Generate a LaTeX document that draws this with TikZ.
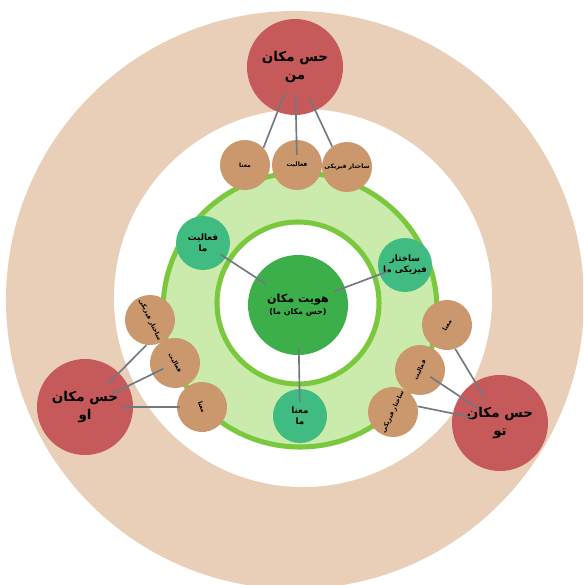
\documentclass[tikz,border=0pt]{standalone}
\usepackage{fontspec}
\newfontfamily\arabicfont[Script=Arabic]{DejaVu Sans}
\TeXXeTstate=1
\newcommand{\fatext}[1]{{\arabicfont\bfseries\beginR #1\endR}}

\definecolor{ringtan}{RGB}{233,206,184}
\definecolor{ringgreen}{RGB}{122,200,62}
\definecolor{palegreen}{RGB}{202,235,172}
\definecolor{hubgreen}{RGB}{60,174,74}
\definecolor{ourteal}{RGB}{64,188,130}
\definecolor{partbrown}{RGB}{202,152,108}
\definecolor{sensered}{RGB}{198,90,90}
\definecolor{linegray}{RGB}{112,120,130}

\begin{document}
\begin{tikzpicture}[x=0.03cm, y=-0.03cm]
\tikzstyle{link} = [draw = linegray, line width = 1.4pt]
\tikzstyle{sense} = [circle, fill = sensered, minimum size = 2.88cm, inner sep = 0pt, align = center, font = \fontsize{11.5}{15}\selectfont]
\tikzstyle{hubnode} = [circle, fill = hubgreen, minimum size = 3cm, inner sep = 0pt, align = center, font = \fontsize{9.5}{12}\selectfont]
\tikzstyle{ours} = [circle, fill = ourteal, minimum size = 1.62cm, inner sep = 0pt, align = center, font = \fontsize{7.5}{9.5}\selectfont]
\tikzstyle{part} = [circle, fill = partbrown, minimum size = 1.5cm, inner sep = 0pt, font = \fontsize{5.2}{6}\selectfont]
\useasboundingbox (0,0) rectangle (583,585);
\clip (0,0) rectangle (583,585);
% rings
\fill[ringtan] (295,300) circle[radius = 8.67cm];
\fill[white] (303,298) circle[radius = 5.67cm];
\draw[ringgreen, line width = 4.3pt, fill = palegreen] (300,310) circle[radius = 4.11cm];
\draw[ringgreen, line width = 4.3pt, fill = white] (298,303) circle[radius = 2.43cm];
% centre and ours
\node[hubnode](hub) at (298,305) {\fatext{هویت مکان}\\[-2pt]{\fontsize{6.8}{8}\selectfont\fatext{(حس مکان ما)}}};
\node[ours](q1) at (203,243) {\fatext{فعالیت}\\\fatext{ما}};
\node[ours](q2) at (405,265) {\fatext{ساختار}\\\fatext{فیزیکی ما}};
\node[ours](q3) at (300,416) {\fatext{معنا}\\\fatext{ما}};
% parts of each sense
\node[part](m1) at (245,165) {\fatext{معنا}};
\node[part](m2) at (297,165) {\fatext{فعالیت}};
\node[part](m3) at (347,167) {\fatext{ساختار فیزیکی}};
\node[part, rotate = -65](u1) at (150,320) {\fatext{ساختار فیزیکی}};
\node[part, rotate = -60](u2) at (175,363) {\fatext{فعالیت}};
\node[part, rotate = -70](u3) at (202,407) {\fatext{معنا}};
\node[part, rotate = 60](t1) at (447,325) {\fatext{معنا}};
\node[part, rotate = 65](t2) at (420,370) {\fatext{فعالیت}};
\node[part, rotate = 65](t3) at (393,412) {\fatext{ساختار فیزیکی}};
% senses
\node[sense](man) at (295,67) {\fatext{حس مکان}\\\fatext{من}};
\node[sense](oo) at (85,407) {\fatext{حس مکان}\\\fatext{او}};
\node[sense](too) at (500,423) {\fatext{حس مکان}\\\fatext{تو}};
% links (anchors of turned parts are turned with them)
\draw[link, shorten <= 0.84cm] (man.center)--(m1.43);
\draw[link, shorten <= 0.84cm, shorten >= 0.3cm] (man.center)--(m2.center);
\draw[link, shorten <= 1.0cm] (man.center)--(m3.126);
\draw[link, shorten <= 0.96cm] (oo.center)--(u1.327);
\draw[link, shorten <= 0.93cm, shorten >= 0.39cm] (oo.center)--(u2.center);
\draw[link, shorten <= 1.14cm, shorten >= 0.66cm] (oo.center)--(u3.center);
\draw[link, shorten <= 0.92cm] (too.center)--(t1.229);
\draw[link, shorten <= 0.77cm, shorten >= 0.37cm] (too.center)--(t2.center);
\draw[link, shorten <= 0.87cm] (too.center)--(t3.308);
\draw[link, shorten <= 0.63cm, shorten >= 1.17cm] (q1.center)--(hub.center);
\draw[link, shorten <= 0.54cm, shorten >= 1.17cm] (q2.center)--(hub.center);
\draw[link, shorten <= 1.26cm, shorten >= 0.42cm] (hub.center)--(q3.center);
\end{tikzpicture}
\end{document}
